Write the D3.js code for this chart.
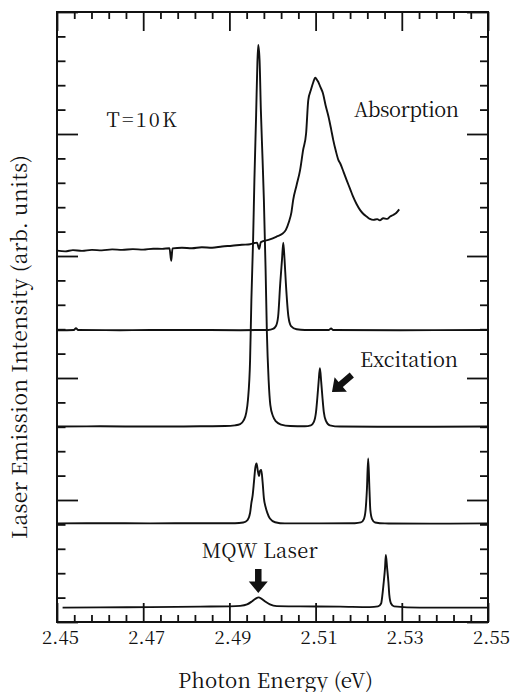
<!DOCTYPE html>
<html>
<head>
<meta charset="utf-8">
<script src="https://cdn.jsdelivr.net/npm/d3@7"></script>
<style>
  html, body { margin: 0; padding: 0; background: #fff; }
  svg { display: block; }
  text { font-family: "Noto Serif CJK SC", "Liberation Serif", serif; fill: #111; }
</style>
</head>
<body>
<script>
// Photon energy axis (eV) and stacked spectra (arbitrary intensity units)
const xMajorTicks = [2.45, 2.47, 2.49, 2.51, 2.53, 2.55];
const xMinorTicks = [2.454, 2.458, 2.462, 2.466, 2.474, 2.478, 2.482, 2.486,
                     2.494, 2.498, 2.502, 2.506, 2.514, 2.518, 2.522, 2.526,
                     2.534, 2.538, 2.542, 2.546];
const yMajorTicks = [0, 5, 10, 15, 20, 25];
const yMinorTicks = [1, 2, 3, 4, 6, 7, 8, 9, 11, 12, 13, 14, 16, 17, 18, 19, 21, 22, 23, 24];

// Bottom trace: MQW laser emission
const mqwLaser = [
  [2.4513, 0.59], [2.4600, 0.60], [2.4716, 0.61], [2.4832, 0.63], [2.4901, 0.64],
  [2.4925, 0.66], [2.4941, 0.72], [2.4952, 0.84], [2.4961, 0.96], [2.4968, 1.01],
  [2.4974, 0.96], [2.4983, 0.84], [2.4994, 0.72], [2.5010, 0.65], [2.5064, 0.64],
  [2.5157, 0.63], [2.5226, 0.61], [2.5245, 0.64], [2.5252, 0.76], [2.5255, 1.11],
  [2.5258, 1.62], [2.5261, 2.20], [2.5263, 2.75], [2.5266, 2.20], [2.5269, 1.62],
  [2.5271, 1.11], [2.5275, 0.76], [2.5282, 0.64], [2.5342, 0.59], [2.5435, 0.59],
  [2.5498, 0.59]
];

// Second trace: laser emission, excitation at 2.522 eV
const emissionA = [
  [2.4500, 4.04], [2.4600, 4.05], [2.4716, 4.04], [2.4832, 4.05], [2.4913, 4.05],
  [2.4932, 4.08], [2.4942, 4.18], [2.4948, 4.47], [2.4951, 4.88], [2.4954, 5.20],
  [2.4957, 5.74], [2.4960, 6.31], [2.4963, 6.50], [2.4966, 6.19], [2.4969, 5.98],
  [2.4971, 6.19], [2.4974, 6.23], [2.4977, 5.74], [2.4980, 5.08], [2.4984, 4.71],
  [2.4988, 4.47], [2.4994, 4.24], [2.5006, 4.09], [2.5029, 4.04], [2.5110, 4.04],
  [2.5191, 4.05], [2.5205, 4.08], [2.5212, 4.22], [2.5216, 4.59], [2.5219, 5.41],
  [2.5222, 6.70], [2.5225, 5.41], [2.5227, 4.59], [2.5231, 4.22], [2.5238, 4.08],
  [2.5261, 4.04], [2.5365, 4.03], [2.5498, 4.04]
];

// Third trace: laser emission, excitation at 2.511 eV
const emissionB = [
  [2.4500, 8.01], [2.4600, 8.02], [2.4716, 8.01], [2.4832, 8.02], [2.4890, 8.03],
  [2.4913, 8.06], [2.4925, 8.11], [2.4933, 8.26], [2.4939, 8.57], [2.4943, 9.10],
  [2.4948, 10.74], [2.4951, 13.20], [2.4955, 15.66], [2.4958, 18.11], [2.4962, 20.78],
  [2.4965, 22.95], [2.4967, 23.65], [2.4970, 23.03], [2.4973, 20.98], [2.4977, 18.93],
  [2.4980, 17.30], [2.4984, 14.43], [2.4987, 11.84], [2.4991, 9.92], [2.4995, 8.89],
  [2.5001, 8.44], [2.5008, 8.22], [2.5020, 8.09], [2.5041, 8.03], [2.5075, 8.02],
  [2.5089, 8.06], [2.5096, 8.20], [2.5101, 8.61], [2.5104, 9.18], [2.5107, 9.84],
  [2.5110, 10.40], [2.5113, 9.84], [2.5116, 9.18], [2.5119, 8.61], [2.5124, 8.24],
  [2.5133, 8.06], [2.5157, 8.01], [2.5296, 8.00], [2.5498, 8.01]
];

// Fourth trace: laser emission, excitation at 2.5025 eV
const emissionC = [
  [2.4500, 11.96], [2.4539, 11.97], [2.4544, 12.04], [2.4549, 11.97], [2.4646, 11.96],
  [2.4785, 11.97], [2.4925, 11.96], [2.4990, 11.97], [2.5001, 12.01], [2.5008, 12.13],
  [2.5013, 12.51], [2.5018, 13.89], [2.5022, 14.84], [2.5025, 15.55], [2.5028, 14.84],
  [2.5031, 13.89], [2.5037, 12.51], [2.5043, 12.13], [2.5056, 12.00], [2.5075, 11.97],
  [2.5131, 11.97], [2.5136, 12.03], [2.5140, 11.97], [2.5296, 11.96], [2.5498, 11.97]
];

// Top trace: absorption spectrum
const absorption = [
  [2.4500, 15.22], [2.4519, 15.19], [2.4537, 15.24], [2.4558, 15.21], [2.4581, 15.25],
  [2.4604, 15.23], [2.4628, 15.27], [2.4651, 15.25], [2.4676, 15.28], [2.4700, 15.26],
  [2.4723, 15.30], [2.4744, 15.29], [2.4761, 15.32], [2.4765, 14.80], [2.4768, 15.31],
  [2.4790, 15.34], [2.4813, 15.32], [2.4836, 15.36], [2.4860, 15.34], [2.4883, 15.39],
  [2.4906, 15.42], [2.4929, 15.46], [2.4948, 15.48], [2.4964, 15.55], [2.4969, 15.29],
  [2.4973, 15.57], [2.4994, 15.68], [2.5010, 15.80], [2.5022, 15.90], [2.5031, 16.07],
  [2.5038, 16.39], [2.5044, 16.80], [2.5048, 17.30], [2.5056, 17.91], [2.5064, 18.52],
  [2.5071, 19.34], [2.5078, 20.03], [2.5083, 21.39], [2.5089, 21.80], [2.5095, 22.14],
  [2.5099, 22.31], [2.5102, 22.25], [2.5106, 22.14], [2.5111, 21.93], [2.5117, 21.67],
  [2.5123, 21.19], [2.5130, 20.71], [2.5136, 20.20], [2.5141, 19.75], [2.5147, 19.30],
  [2.5153, 18.93], [2.5157, 18.80], [2.5165, 18.44], [2.5172, 18.11], [2.5180, 17.75],
  [2.5187, 17.43], [2.5195, 17.13], [2.5203, 16.89], [2.5211, 16.72], [2.5219, 16.61],
  [2.5226, 16.52], [2.5234, 16.48], [2.5243, 16.51], [2.5249, 16.46], [2.5257, 16.55],
  [2.5266, 16.52], [2.5273, 16.62], [2.5280, 16.68], [2.5287, 16.76], [2.5294, 16.91]
];

const traces = [mqwLaser, emissionA, emissionB, emissionC, absorption];

// Text annotations: [label, energy, intensity at baseline]
const labels = [
  ["T=10K", 2.4615, 20.27],
  ["Absorption", 2.5189, 20.68],
  ["Excitation", 2.5203, 10.46],
  ["MQW Laser", 2.4836, 2.61]
];
// Set widths of the annotation texts (px)
const labelWidths = [70, 105, 98, 116];

// Arrows: [tail energy, tail intensity, tip energy, tip intensity]
const arrows = [
  [2.4967, 2.17, 2.4967, 1.19],
  [2.5184, 10.12, 2.5138, 9.43]
];

const W = 511, H = 692;
const margin = { left: 57, right: 23, top: 12, bottom: 70 };

const svg = d3.select("body").append("svg")
  .attr("width", W).attr("height", H);

const x = d3.scaleLinear().domain([2.45, 2.55]).range([margin.left, W - margin.right]);
const y = d3.scaleLinear().domain([0, 25]).range([H - margin.bottom, margin.top]);

const ink = "#111";
const serif = '"Noto Serif CJK SC", "Liberation Serif", serif';

// Spectra
const line = d3.line()
  .x(d => x(d[0]))
  .y(d => y(d[1]))
  .curve(d3.curveMonotoneX);

svg.append("g")
  .selectAll("path")
  .data(traces)
  .join("path")
  .attr("d", line)
  .attr("fill", "none")
  .attr("stroke", ink)
  .attr("stroke-width", 1.9)
  .attr("stroke-linejoin", "round");

// Axes: ticks point inward on all four sides
function styleAxis(g) {
  g.select(".domain").remove();
  g.selectAll(".tick line").attr("stroke", ink).attr("stroke-width", 1.8);
}

const plotBottom = y(0), plotTop = y(25), plotLeft = x(2.45), plotRight = x(2.55);

svg.append("g")
  .attr("transform", `translate(0,${plotBottom})`)
  .call(d3.axisBottom(x).tickValues(xMajorTicks).tickSizeInner(-19).tickSizeOuter(0)
    .tickPadding(9).tickFormat(d3.format(".2f")))
  .call(styleAxis)
  .call(g => g.selectAll(".tick text")
    .attr("dx", 3)
    .attr("textLength", 37)
    .attr("lengthAdjust", "spacing")
    .style("font-family", serif)
    .style("font-size", "18.5px")
    .attr("fill", ink));

svg.append("g")
  .attr("transform", `translate(0,${plotBottom})`)
  .call(d3.axisBottom(x).tickValues(xMinorTicks).tickSizeInner(-7).tickSizeOuter(0).tickFormat(""))
  .call(styleAxis);

svg.append("g")
  .attr("transform", `translate(0,${plotTop})`)
  .call(d3.axisTop(x).tickValues(xMajorTicks).tickSizeInner(-19).tickSizeOuter(0).tickFormat(""))
  .call(styleAxis);

svg.append("g")
  .attr("transform", `translate(0,${plotTop})`)
  .call(d3.axisTop(x).tickValues(xMinorTicks).tickSizeInner(-7).tickSizeOuter(0).tickFormat(""))
  .call(styleAxis);

svg.append("g")
  .attr("transform", `translate(${plotLeft},0)`)
  .call(d3.axisLeft(y).tickValues(yMajorTicks).tickSizeInner(-21).tickSizeOuter(0).tickFormat(""))
  .call(styleAxis);

svg.append("g")
  .attr("transform", `translate(${plotLeft},0)`)
  .call(d3.axisLeft(y).tickValues(yMinorTicks).tickSizeInner(-8.5).tickSizeOuter(0).tickFormat(""))
  .call(styleAxis);

svg.append("g")
  .attr("transform", `translate(${plotRight},0)`)
  .call(d3.axisRight(y).tickValues(yMajorTicks).tickSizeInner(-21).tickSizeOuter(0).tickFormat(""))
  .call(styleAxis);

svg.append("g")
  .attr("transform", `translate(${plotRight},0)`)
  .call(d3.axisRight(y).tickValues(yMinorTicks).tickSizeInner(-8).tickSizeOuter(0).tickFormat(""))
  .call(styleAxis);

// Frame
svg.append("rect")
  .attr("x", plotLeft).attr("y", plotTop)
  .attr("width", plotRight - plotLeft).attr("height", plotBottom - plotTop)
  .attr("fill", "none").attr("stroke", ink).attr("stroke-width", 2);

// Axis titles
svg.append("text")
  .attr("x", 178).attr("y", 687.5)
  .attr("textLength", 195).attr("lengthAdjust", "spacing")
  .style("font-size", "20.5px")
  .text("Photon Energy (eV)");

svg.append("text")
  .attr("transform", "translate(26.5,539) rotate(-90)")
  .attr("textLength", 384).attr("lengthAdjust", "spacing")
  .style("font-size", "21px")
  .text("Laser Emission Intensity (arb. units)");

// Annotations
svg.append("g")
  .selectAll("text")
  .data(labels)
  .join("text")
  .attr("x", d => x(d[1]))
  .attr("y", d => y(d[2]))
  .attr("textLength", (d, i) => labelWidths[i])
  .attr("lengthAdjust", "spacing")
  .style("font-size", "20px")
  .text(d => d[0]);

// Block arrows built along each tail-to-tip direction
function arrowPath(x0, y0, x1, y1, shaftW, headW, headL) {
  const dx = x1 - x0, dy = y1 - y0;
  const len = Math.hypot(dx, dy);
  const ux = dx / len, uy = dy / len;
  const px = -uy, py = ux;
  const bx = x1 - ux * headL, by = y1 - uy * headL;
  const pts = [
    [x0 + px * shaftW / 2, y0 + py * shaftW / 2],
    [bx + px * shaftW / 2, by + py * shaftW / 2],
    [bx + px * headW / 2, by + py * headW / 2],
    [x1, y1],
    [bx - px * headW / 2, by - py * headW / 2],
    [bx - px * shaftW / 2, by - py * shaftW / 2],
    [x0 - px * shaftW / 2, y0 - py * shaftW / 2]
  ];
  return "M" + pts.map(p => p.join(",")).join("L") + "Z";
}

svg.append("g")
  .selectAll("path")
  .data(arrows)
  .join("path")
  .attr("d", d => arrowPath(x(d[0]), y(d[1]), x(d[2]), y(d[3]), 6.5, 19, 11.5))
  .attr("fill", ink);
</script>
</body>
</html>
